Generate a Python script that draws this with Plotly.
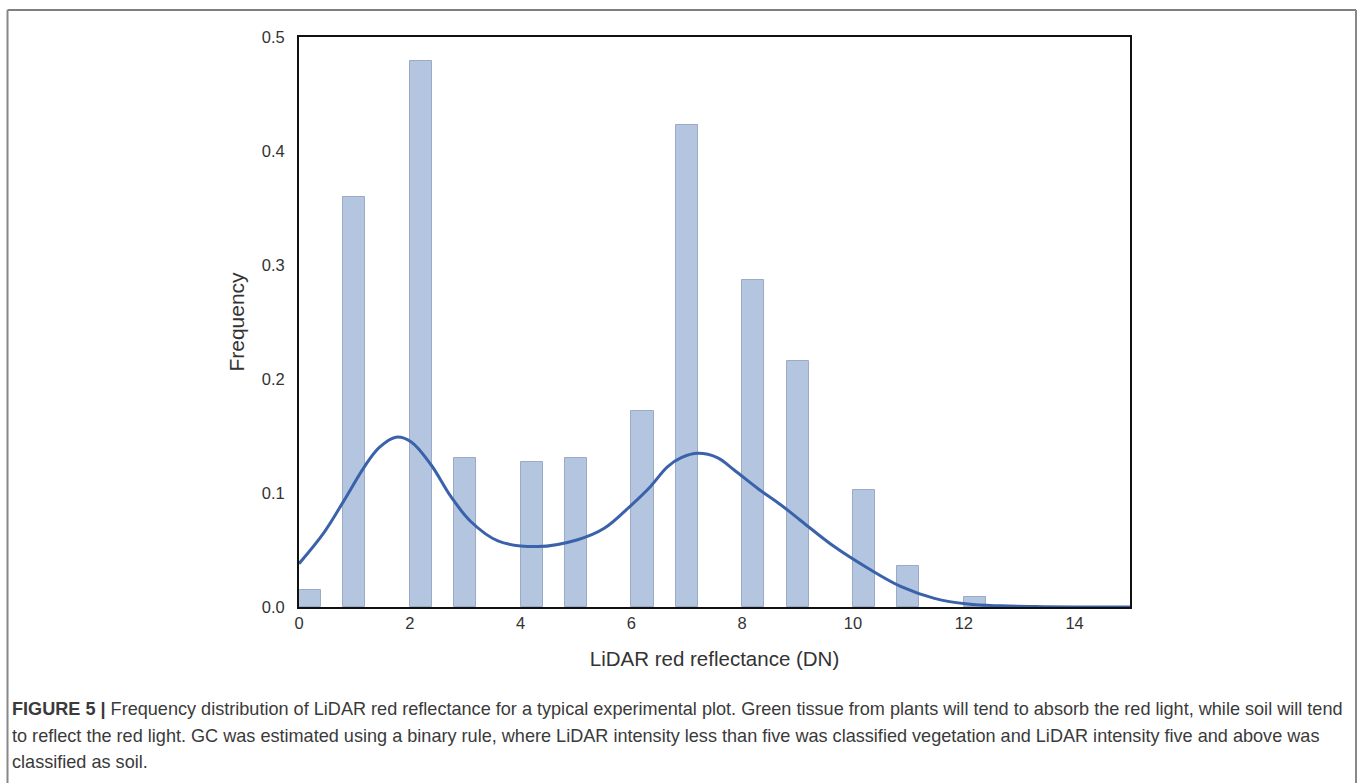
import numpy as np
import plotly.graph_objects as go

# ---- data ----
reflectance_values = [0, 1, 2, 3, 4, 5, 6, 7, 8, 9, 10, 11, 12]
frequency = [0.015, 0.360, 0.479, 0.131, 0.127, 0.131, 0.172, 0.423, 0.287, 0.216, 0.103, 0.036, 0.009]
bin_width = 0.4

kde_x = [0, 0.46, 0.82, 1.18, 1.45, 1.75, 2.02, 2.38, 2.74, 3.10, 3.59, 4.31, 5.03, 5.51,
         5.99, 6.35, 6.65, 6.90, 7.20, 7.55, 7.86, 8.28, 8.70, 9.06, 9.66, 10.27, 10.87,
         11.47, 12.07, 12.67, 13.30, 14.0, 15.0]
kde_y = [0.038, 0.066, 0.094, 0.123, 0.140, 0.149, 0.145, 0.125, 0.097, 0.075, 0.058, 0.053,
         0.059, 0.069, 0.089, 0.106, 0.123, 0.131, 0.1348, 0.131, 0.120, 0.104, 0.0895, 0.0757,
         0.053, 0.034, 0.0178, 0.0076, 0.0026, 0.001, 0.0004, 0.0001, 0.0]

x_ticks = [0, 2, 4, 6, 8, 10, 12, 14]
y_ticks = [0.0, 0.1, 0.2, 0.3, 0.4, 0.5]

caption_lines = [
    "<b>FIGURE 5 |</b> Frequency distribution of LiDAR red reflectance for a typical experimental plot. Green tissue from plants will tend to absorb the red light, while soil will tend",
    "to reflect the red light. GC was estimated using a binary rule, where LiDAR intensity less than five was classified vegetation and LiDAR intensity five and above was",
    "classified as soil.",
]

# histogram bins of width 0.4 starting at 0
vals = np.array(reflectance_values, dtype=float)
bin_left = np.floor(vals / bin_width + 1e-9) * bin_width
bin_center = bin_left + bin_width / 2

W, H = 1358, 783
L, R, T, B = 299, 1130, 37, 607

fig = go.Figure()
fig.add_trace(go.Bar(
    x=bin_center, y=frequency, width=bin_width,
    marker=dict(color="rgb(180,197,223)", line=dict(color="rgb(155,170,198)", width=1)),
    showlegend=False,
))
fig.add_trace(go.Scatter(
    x=kde_x, y=kde_y, mode="lines", line=dict(color="#3a62ab", width=3, shape="spline", smoothing=1.0),
    showlegend=False,
))

font_main = "Liberation Sans, Arial, sans-serif"

fig.update_layout(
    width=W, height=H,
    margin=dict(l=L, r=W - R, t=T, b=H - B, pad=0),
    paper_bgcolor="white", plot_bgcolor="white",
    bargap=0,
    font=dict(family=font_main, color="#333333"),
    xaxis=dict(range=[0, 15], tickvals=x_ticks, ticktext=[str(v) for v in x_ticks],
               showgrid=False, zeroline=False, showline=True, linecolor="#111111", linewidth=2,
               mirror=True, ticks="", tickfont=dict(size=16.5, color="#333333"),
               title=dict(text="LiDAR red reflectance (DN)", font=dict(size=20.5, color="#333333"), standoff=21)),
    yaxis=dict(range=[0, 0.5], tickvals=y_ticks, ticktext=[f"{v:.1f}" for v in y_ticks],
               showgrid=False, zeroline=False, showline=True, linecolor="#111111", linewidth=2,
               mirror=True, ticks="", ticklabelstandoff=9, tickfont=dict(size=16.5, color="#333333"),
               title=dict(text="Frequency", font=dict(size=21, color="#333333"), standoff=11)),
)

pw, ph = R - L, B - T
def px(xp):
    return (xp - L) / pw
def py(yp):
    return (B - yp) / ph

caption_y = [709, 736, 762]
for text, yp in zip(caption_lines, caption_y):
    fig.add_annotation(text=text, xref="paper", yref="paper", x=px(10), y=py(yp),
                       xanchor="left", yanchor="middle", showarrow=False, align="left",
                       font=dict(family=font_main, size=18.1, color="#3a3a3a"))

# outer figure frame (open at the bottom)
fig.add_shape(type="line", xref="paper", yref="paper", x0=px(7.5), x1=px(1356), y0=py(10), y1=py(10),
              line=dict(color="#555555", width=1.5))
fig.add_shape(type="line", xref="paper", yref="paper", x0=px(7.5), x1=px(7.5), y0=py(10), y1=py(790),
              line=dict(color="#888888", width=2))
fig.add_shape(type="line", xref="paper", yref="paper", x0=px(1356), x1=px(1356), y0=py(10), y1=py(790),
              line=dict(color="#888888", width=2))

fig.write_html("out.html", config={"displayModeBar": False},
               post_script="document.body.style.margin='0';")
